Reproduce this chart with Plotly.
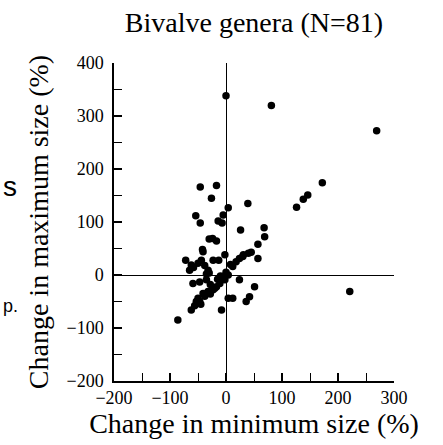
import plotly.graph_objects as go

# Change in minimum size (%) and change in maximum size (%) for 81 bivalve genera
min_change = [
    0, 81, 269, 172, 146, 138, 126, 221, -46, -17, -26, -54, -46, 4, 39, -14, -7, -5,
    26, 68, 69, 57, -30, -24, -17, -42,
    -72, -62, -44, -41, -23, -13, -2, 12, 24, 31, 40, 45, 57, -32, -35, -65, -58, 4,
    -2, 24, -59, -47, -35, -30, -11, -17, 51, -41, -32, -23, -50, -53, 4, 12, 42, 36,
    -62, -8, -86, -47, -38, -28, -20, -5, 0, -10, 8, 18, 30, -38, -50, -28, -15, -45, -56,
]
max_change = [
    338, 320, 272, 174, 151, 143, 128, -31, 166, 169, 145, 112, 98, 127, 135, 102, 98, 113,
    85, 89, 72, 58, 68, 69, 64, 48,
    28, 19, 28, 44, 28, 28, 38, 16, 31, 38, 41, 43, 31, 9, 2, 9, 14, 0,
    -9, -9, -16, -13, -9, 4, -16, -22, -22, -35, -31, -28, -44, -50, -44, -44, -41, -50,
    -66, -66, -85, -50, -40, -36, -25, -5, 5, -2, 20, 25, 35, 18, 22, -18, -8, -55, -58,
]

title_text = "Bivalve genera (N=81)"
x_title = "Change in minimum size (%)"
y_title = "Change in maximum size (%)"

serif = "Liberation Serif, Times New Roman, Times, serif"
sans = "Liberation Sans, Arial, sans-serif"

fig = go.Figure()
fig.add_trace(go.Scatter(
    x=min_change, y=max_change, mode="markers",
    marker=dict(color="black", size=7.5, line=dict(width=0)),
    showlegend=False, cliponaxis=False,
))

axis_common = dict(
    showgrid=False, showline=True, linecolor="black", linewidth=1.5,
    ticks="inside", ticklen=8, tickwidth=1.5, tickcolor="black",
    zeroline=True, zerolinecolor="black", zerolinewidth=1.2,
    tickfont=dict(family=serif, size=18, color="black"),
    minor=dict(ticks="inside", ticklen=8, tickwidth=1.2, tickcolor="black", dtick=50),
    mirror=False,
)

fig.update_layout(
    width=443, height=445,
    margin=dict(l=114, r=49, t=63, b=64, autoexpand=False),
    paper_bgcolor="white", plot_bgcolor="white",
    title=dict(text=title_text, x=0.5, xref="paper", xanchor="center",
               y=1 - 22 / 445, yref="container", yanchor="middle",
               font=dict(family=serif, size=28, color="black")),
    xaxis=dict(range=[-200, 300], dtick=100, tick0=0,
               title=dict(text=x_title, standoff=2,
                          font=dict(family=serif, size=28, color="black")),
               ticklabelstandoff=0, **axis_common),
    yaxis=dict(range=[-200, 400], dtick=100, tick0=0,
               title=dict(text=y_title, standoff=10,
                          font=dict(family=serif, size=28, color="black")),
               ticklabelstandoff=5, **axis_common),
)

# Fragments of a neighbouring panel's text at the left edge
fig.add_annotation(text="s", xref="paper", yref="paper",
                   x=(1 - 114) / 280, y=(381 - 186) / 318,
                   xanchor="left", yanchor="middle", showarrow=False,
                   font=dict(family=sans, size=28, color="black"))
fig.add_annotation(text="p.", xref="paper", yref="paper",
                   x=(1 - 114) / 280, y=(381 - 306) / 318,
                   xanchor="left", yanchor="middle", showarrow=False,
                   font=dict(family=sans, size=18, color="black"))

fig.write_html("out.html")
